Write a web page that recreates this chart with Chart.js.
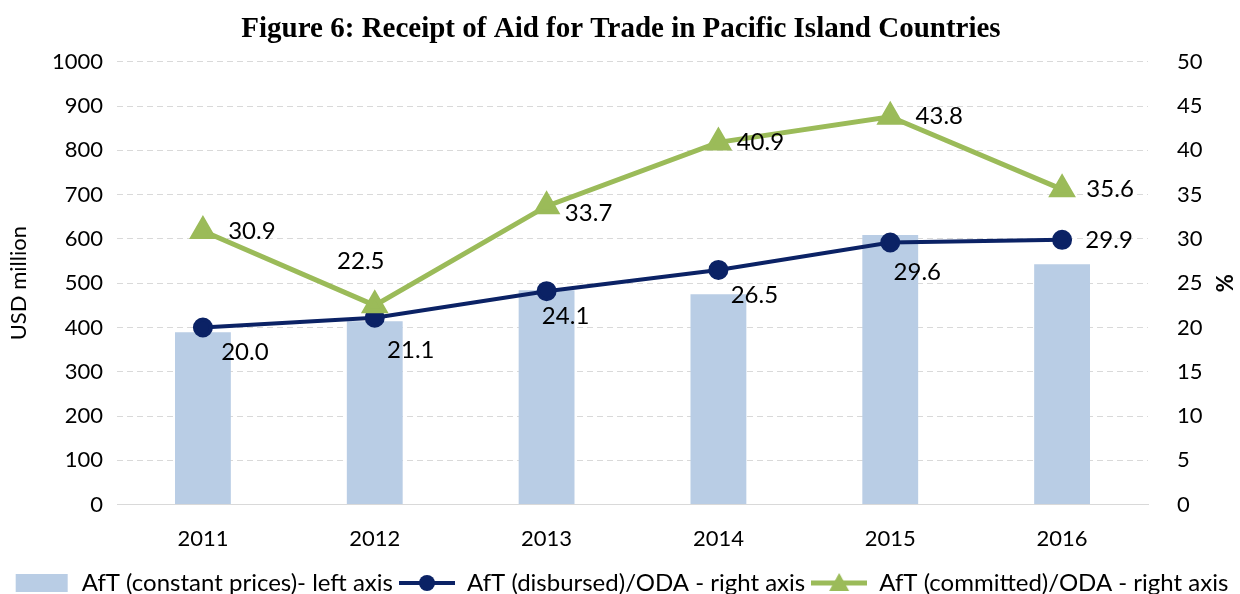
<!DOCTYPE html>
<html>
<head>
<meta charset="utf-8">
<script src="https://cdn.jsdelivr.net/npm/chart.js@4.4.1/dist/chart.umd.min.js"></script>
<style>
  html, body { margin: 0; padding: 0; background: #fff; }
  #wrap { width: 1240px; height: 594px; position: relative; }
</style>
</head>
<body>
<div id="wrap"><canvas id="chart" width="1240" height="594"></canvas></div>
<script>
const years = ['2011', '2012', '2013', '2014', '2015', '2016'];
const aftConstant = [389, 414, 484, 475, 609, 543];      // USD million, left axis
const aftDisbursed = [20.0, 21.1, 24.1, 26.5, 29.6, 29.9]; // %, right axis
const aftCommitted = [30.9, 22.5, 33.7, 40.9, 43.8, 35.6]; // %, right axis

// label offsets from each point (text centre), px
const disbursedLabelPos = [[42, 25], [36, 33], [19, 25], [36, 25], [27, 30], [47, 0]];
const committedLabelPos = [[49, 0], [-14, -44], [42, 7], [42, 0], [49, 0], [48, 0]];

const FONT = 'Lato, "Open Sans", sans-serif';
const barColor = '#B9CDE5';
const navy = '#0B2265';
const green = '#9BBB59';

Chart.defaults.font.family = FONT;
Chart.defaults.color = '#000';

function legendIcon(kind) {
    const c = document.createElement('canvas');
    c.width = 56; c.height = 22;
    const g = c.getContext('2d');
    if (kind === 'bar') {
        g.fillStyle = barColor;
        g.fillRect(2, 2, 52, 18);
    } else {
        const col = kind === 'circle' ? navy : green;
        g.strokeStyle = col;
        g.fillStyle = col;
        g.lineWidth = kind === 'circle' ? 4 : 5;
        g.beginPath(); g.moveTo(0, 11); g.lineTo(56, 11); g.stroke();
        g.beginPath();
        if (kind === 'circle') {
            g.arc(28, 11, 8, 0, Math.PI * 2);
        } else {
            g.moveTo(28, 1); g.lineTo(38, 19); g.lineTo(18, 19); g.closePath();
        }
        g.fill();
    }
    return c;
}
const icons = [legendIcon('bar'), legendIcon('circle'), legendIcon('triangle')];

const pointLabels = {
    id: 'pointLabels',
    afterDatasetsDraw(chart) {
        const ctx = chart.ctx;
        ctx.save();
        ctx.font = '24px ' + FONT;
        ctx.fillStyle = '#000';
        ctx.textAlign = 'center';
        ctx.textBaseline = 'middle';
        [[1, aftDisbursed, disbursedLabelPos], [2, aftCommitted, committedLabelPos]].forEach(([idx, vals, pos]) => {
            const meta = chart.getDatasetMeta(idx);
            meta.data.forEach((pt, i) => {
                ctx.fillText(vals[i].toFixed(1), pt.x + pos[i][0], pt.y + pos[i][1]);
            });
        });
        ctx.restore();
    }
};

new Chart(document.getElementById('chart'), {
    data: {
        labels: years,
        datasets: [{
            type: 'bar',
            label: 'AfT (constant prices)- left axis',
            data: aftConstant,
            yAxisID: 'y',
            backgroundColor: barColor,
            categoryPercentage: 1,
            barPercentage: 0.325,
            order: 3
        }, {
            type: 'line',
            label: 'AfT (disbursed)/ODA - right axis',
            data: aftDisbursed,
            yAxisID: 'y1',
            borderColor: navy,
            backgroundColor: navy,
            borderWidth: 4,
            pointRadius: 8,
            pointStyle: 'circle',
            order: 2
        }, {
            type: 'line',
            label: 'AfT (committed)/ODA - right axis',
            data: aftCommitted,
            yAxisID: 'y1',
            borderColor: green,
            backgroundColor: green,
            borderWidth: 5,
            pointRadius: 11,
            pointStyle: 'triangle',
            order: 1
        }]
    },
    options: {
        responsive: false,
        animation: false,
        layout: { padding: { left: 6, right: 4, top: 0, bottom: -11 } },
        scales: {
            x: {
                grid: { display: false },
                border: { color: '#D9D9D9', width: 1 },
                ticks: { font: { size: 22 }, padding: 13 }
            },
            y: {
                position: 'left',
                min: 0, max: 1000,
                ticks: { stepSize: 100, font: { size: 22 }, padding: 14, callback: v => String(v) },
                border: { display: false, dash: [6, 4] },
                grid: { color: '#D9D9D9', drawTicks: false },
                title: { display: true, text: 'USD million', font: { size: 22 }, padding: 0 },
                afterFit(scale) { scale.width = 111; }
            },
            y1: {
                position: 'right',
                min: 0, max: 50,
                ticks: { stepSize: 5, font: { size: 22 }, padding: 29 },
                border: { display: false },
                grid: { display: false, drawTicks: false },
                title: { display: true, text: '%', font: { size: 22, weight: 'bold' }, padding: 0 },
                afterFit(scale) { scale.width = 88; }
            }
        },
        plugins: {
            title: {
                display: true,
                text: 'Figure 6: Receipt of Aid for Trade in Pacific Island Countries',
                font: { family: '"Liberation Serif", "Times New Roman", serif', size: 29, weight: 'bold' },
                color: '#000',
                padding: { top: 12, bottom: 15 }
            },
            legend: {
                position: 'bottom',
                labels: {
                    font: { size: 24 },
                    usePointStyle: true,
                    pointStyleWidth: 56,
                    boxHeight: 20,
                    padding: 6,
                    generateLabels(chart) {
                        return chart.data.datasets.map((ds, i) => ({
                            text: ds.label,
                            pointStyle: icons[i],
                            fillStyle: 'transparent',
                            strokeStyle: 'transparent',
                            lineWidth: 0,
                            datasetIndex: i,
                            hidden: false
                        }));
                    }
                }
            },
            tooltip: { enabled: false }
        }
    },
    plugins: [pointLabels]
});
</script>
</body>
</html>
